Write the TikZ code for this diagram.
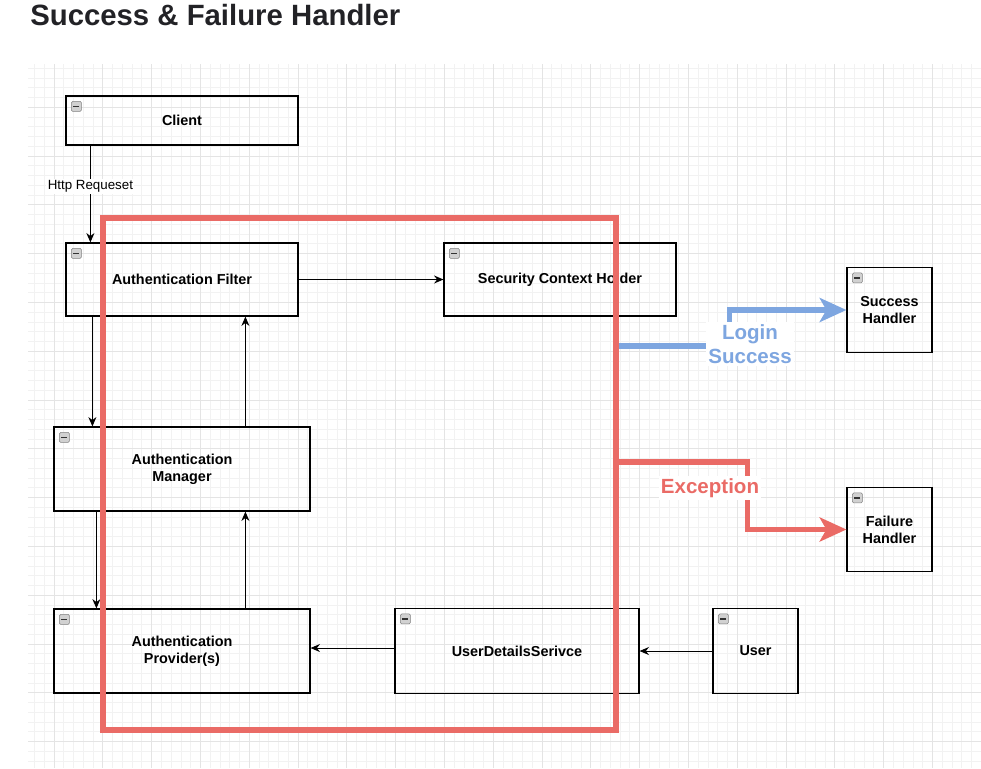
\documentclass[tikz,border=0pt]{standalone}
\usepackage{fontspec}
\setmainfont{Liberation Sans}
\usetikzlibrary{arrows.meta, calc}
\definecolor{zonered}{HTML}{EA6B66}
\definecolor{okblue}{HTML}{7EA6E0}
\definecolor{gridminor}{HTML}{F2F2F2}
\definecolor{gridmajor}{HTML}{E4E4E4}
\definecolor{titleink}{HTML}{222226}

\begin{document}
\begin{tikzpicture}[x=0.75pt, y=-0.75pt, >={Stealth[length=7pt, width=6pt]},
  every node/.style={font=\bfseries\fontsize{10.8}{12.75}\selectfont},
  box/.style={draw, line width=0.9pt, align=center, inner sep=0pt},
  icon/.style={draw=black!50, fill=black!18, rounded corners=1pt, minimum size=7.5pt, inner sep=0pt,
    path picture={\draw[black!80, line width=1.3pt] ([xshift=1.5pt]path picture bounding box.west) -- ([xshift=-1.5pt]path picture bounding box.east);}},
  flow/.style={->, line width=0.75pt},
  zone/.style={draw=zonered, line width=3.8pt, inner sep=0pt},
  bigflow/.style={line width=3.8pt, -{Stealth[length=20pt, width=18pt, inset=5pt]}},
  biglabel/.style={fill=white, align=center, inner sep=1.5pt, font=\bfseries\fontsize{15.4}{18}\selectfont}]
  \useasboundingbox (0,0) rectangle (981,768);

  % grid
  \foreach \i in {0,...,97} \draw[gridminor, line width=0.6pt] ({34.5+9.76*\i},64) -- ({34.5+9.76*\i},768);
  \foreach \i in {0,...,71} \draw[gridminor, line width=0.6pt] (28,{68.2+9.76*\i}) -- (981,{68.2+9.76*\i});
  \foreach \i in {0,...,19} \draw[gridmajor, line width=0.7pt] ({54+48.8*\i},64) -- ({54+48.8*\i},768);
  \foreach \i in {0,...,13} \draw[gridmajor, line width=0.7pt] (28,{107.2+48.8*\i}) -- (981,{107.2+48.8*\i});

  \node[anchor=base west, text=titleink, inner sep=0pt, font=\bfseries\fontsize{22}{26}\selectfont] (title) at (30,25) {Success \& Failure Handler};

  % boxes
  \node[box, minimum width=174pt, minimum height=36.75pt] (client) at (182,120.5) {Client};
  \node[box, minimum width=174pt, minimum height=54.75pt] (filter) at (182,279.5) {Authentication Filter};
  \node[box, minimum width=174pt, minimum height=54.75pt] (sch) at (560,279.5) {Security Context Holder};
  \node[box, minimum width=63.75pt, minimum height=63.75pt] (succ) at (889.5,310) {Success\\Handler};
  \node[box, minimum width=192pt, minimum height=63pt] (manager) at (182,469) {Authentication\\Manager};
  \node[box, minimum width=63.75pt, minimum height=63pt] (fail) at (889.5,529.5) {Failure\\Handler};
  \node[box, minimum width=192pt, minimum height=63pt] (provider) at (182,651) {Authentication\\Provider(s)};
  \node[box, minimum width=183pt, minimum height=63.75pt] (uds) at (517,651) {UserDetailsSerivce};
  \node[box, minimum width=63.75pt, minimum height=63.75pt] (user) at (755.5,651) {User};

  \foreach \b in {client,filter,sch,succ,manager,fail,provider,uds,user}
    \node[icon] (\b-icon) at ($(\b.north west)+(11,11)$) {};

  % connectors
  \draw[flow] ([xshift=18.75pt]client.south west) -- ([xshift=18.75pt]filter.north west)
    node[pos=0.42, fill=white, inner sep=1pt, font=\fontsize{10}{12}\selectfont] (httplabel) {Http Requeset};
  \draw[flow] (filter.east) -- (sch.west);
  \draw[flow] ([xshift=20.25pt]filter.south west) -- ([xshift=29.25pt]manager.north west);
  \draw[flow] ([xshift=144pt]manager.north west) -- ([xshift=135pt]filter.south west);
  \draw[flow] ([xshift=32.25pt]manager.south west) -- ([xshift=32.25pt]provider.north west);
  \draw[flow] ([xshift=144pt]provider.north west) -- ([xshift=144pt]manager.south west);
  \draw[flow] ([yshift=2.25pt]uds.west) -- ([yshift=2.25pt]provider.east);
  \draw[flow] (user.west) -- (uds.east);

  % success / failure zone
  \node[zone, minimum width=384.75pt, minimum height=384pt] (authzone) at (359.5,474) {};

  \draw[bigflow, okblue] ($(authzone.east)+(0,-128)$) -| ($(succ.west)+(-117,0)$) -- (succ.west);
  \draw[bigflow, zonered] ($(authzone.east)+(0,-12)$) -| ($(fail.west)+(-99,0)$) -- (fail.west);
  \node[biglabel, text=okblue] (loginlabel) at (750,344) {Login\\Success};
  \node[biglabel, text=zonered] (exclabel) at (710,488) {Exception};
\end{tikzpicture}
\end{document}
